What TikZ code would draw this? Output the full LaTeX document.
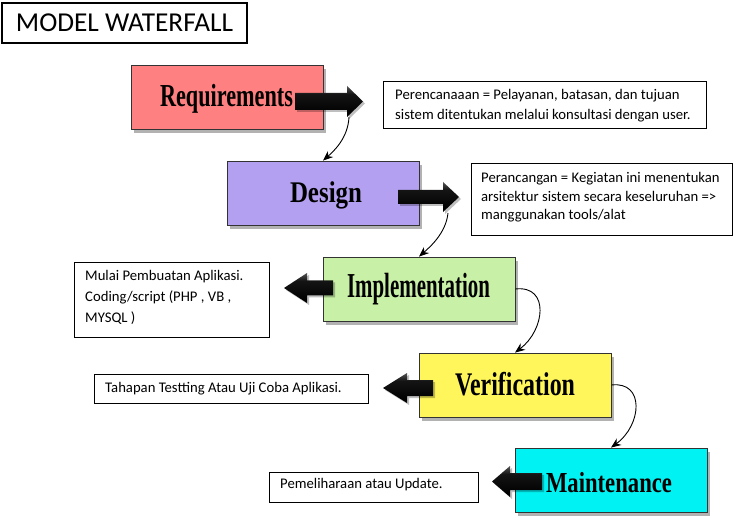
\documentclass[tikz,border=0pt]{standalone}
\usepackage{fontspec}
\setmainfont{Carlito}
\newfontfamily\labfont{Liberation Serif}
\usetikzlibrary{shadows,arrows.meta}
\definecolor{reqc}{RGB}{255,128,128}
\definecolor{desc}{RGB}{180,160,240}
\definecolor{impc}{RGB}{200,240,166}
\definecolor{verc}{RGB}{255,246,92}
\definecolor{maic}{RGB}{0,242,242}
\pgfdeclareverticalshading{arrowshade}{100bp}{color(0bp)=(black!75); color(30bp)=(black); color(62bp)=(black!92); color(84bp)=(black!50); color(100bp)=(black!80)}
\newcommand{\boxlabel}[3]{\resizebox{#1}{\height}{\labfont\bfseries\fontsize{#2}{#2}\selectfont #3}}
\newcommand{\firstln}{\rule{0pt}{12pt}}
% block arrow: x0 (tail), x1 (head back), xt (tip), yc, shaft half, head half
\newcommand{\blockarr}[6]{%
  \shade[shading=arrowshade, arrshadow] (#1,#4-#5) -- (#2,#4-#5) -- (#2,#4-#6) -- (#3,#4) -- (#2,#4+#6) -- (#2,#4+#5) -- (#1,#4+#5) -- cycle;}
\begin{document}
\begin{tikzpicture}[x=1pt,y=-1pt,
  stagebox/.style={draw=black!80, line width=0.8pt, minimum width=192pt, minimum height=64pt, inner sep=0pt,
    drop shadow={shadow xshift=3pt, shadow yshift=-4pt, fill=black, opacity=0.3}},
  stagelabel/.style={anchor=base, inner sep=0pt},
  descbox/.style={draw=black, line width=0.8pt, fill=white, inner sep=0pt},
  desctext/.style={anchor=north west, inner sep=0pt, align=left},
  arrshadow/.style={drop shadow={shadow xshift=2pt, shadow yshift=-2pt, fill=black, opacity=0.25}},
  flow/.style={line width=0.9pt, -{Stealth[length=10pt, width=8pt]}}
]
\useasboundingbox (0,0) rectangle (739,529);
\fill[white] (0,0) rectangle (739,529);

% title
\node[draw=black, line width=1.2pt, minimum width=245pt, minimum height=40pt, inner sep=0pt,
  font=\fontsize{27.3}{27.3}\selectfont] (title) at (124.5,23) {MODEL WATERFALL\hspace{7pt}};

% stage boxes
\node[stagebox, fill=reqc] (R) at (227,97) {};
\node[stagebox, fill=desc] (D) at (323,193) {};
\node[stagebox, fill=impc] (I) at (419,289) {};
\node[stagebox, fill=verc] (V) at (515,385) {};
\node[stagebox, fill=maic] (M) at (611,480) {};

\node[stagelabel] (Rl) at (226.5,107) {\boxlabel{133pt}{32}{Requirements}};
\node[stagelabel] (Dl) at (326,203) {\boxlabel{72pt}{30}{Design}};
\node[stagelabel] (Il) at (418.5,298) {\boxlabel{143pt}{35}{Implementation}};
\node[stagelabel] (Vl) at (515,395) {\boxlabel{120pt}{33}{Verification}};
\node[stagelabel] (Ml) at (609,492) {\boxlabel{126pt}{29}{Maintenance}};

% block arrows
\blockarr{295}{347}{363}{101.5}{8.5}{15.5}
\blockarr{398}{443}{459}{197}{7}{15}
\blockarr{333}{307}{284}{288}{7.5}{15}
\blockarr{433}{407}{383}{388}{8}{15}
\blockarr{542}{510}{492}{481.5}{8.5}{15.5}

% description boxes
\node[descbox, minimum width=323pt, minimum height=47pt] (d1) at (544.5,104.5) {};
\node[descbox, minimum width=261pt, minimum height=72pt] (d2) at (601.5,199) {};
\node[descbox, minimum width=195pt, minimum height=75pt] (d3) at (171.5,299.5) {};
\node[descbox, minimum width=274pt, minimum height=29pt] (d4) at (231,388.5) {};
\node[descbox, minimum width=209pt, minimum height=30pt] (d5) at (373.5,487) {};

\node[desctext, font=\fontsize{14.7}{20}\selectfont] (t1) at (395,87)
  {\firstln Perencanaaan = Pelayanan, batasan, dan tujuan\\sistem ditentukan melalui konsultasi dengan user.};
\node[desctext, font=\fontsize{14.7}{18.5}\selectfont] (t2) at (481,170.5)
  {\firstln Perancangan = Kegiatan ini menentukan\\arsitektur sistem secara keseluruhan =>\\manggunakan tools/alat};
\node[desctext, font=\fontsize{14.7}{21}\selectfont] (t3) at (85,268)
  {\firstln Mulai Pembuatan Aplikasi.\\Coding/script (PHP , VB ,\\MYSQL )};
\node[desctext, font=\fontsize{14.7}{18}\selectfont] (t4) at (105,380)
  {\firstln Tahapan Testting Atau Uji Coba Aplikasi.};
\node[desctext, font=\fontsize{14.7}{18}\selectfont] (t5) at (280,476)
  {\firstln Pemeliharaan atau Update.};

% flow connectors
\coordinate (c1) at (349,117);
\coordinate (c2) at (448,213);
\draw[flow] (c1) .. controls (348,138) and (334,151) .. (D.north);
\draw[flow] (c2) .. controls (446,233) and (430,247) .. (I.north);
\draw[flow] (I.east) .. controls (550,285) and (545,330) .. (V.north);
\draw[flow] (V.east) .. controls (645,381) and (642,425) .. (M.north);
\end{tikzpicture}
\end{document}
